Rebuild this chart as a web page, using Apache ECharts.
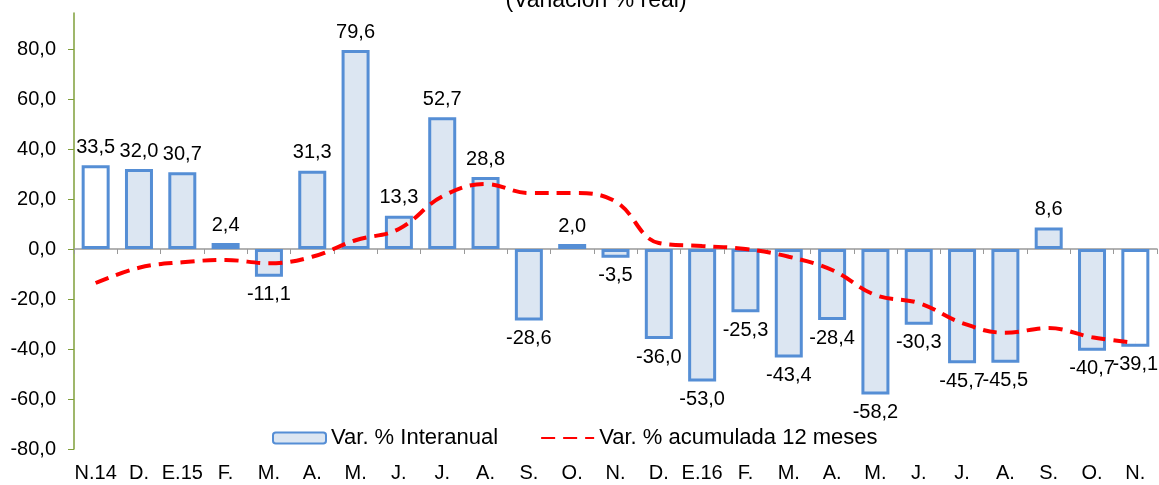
<!DOCTYPE html>
<html>
<head>
<meta charset="utf-8">
<script src="https://cdn.jsdelivr.net/npm/echarts@6/dist/echarts.min.js"></script>
<style>
  html, body { margin: 0; padding: 0; background: #fff; }
  #chart { width: 1159px; height: 485px; }
</style>
</head>
<body>
<div id="chart"></div>
<script>
const categories = ["N.14", "D.", "E.15", "F.", "M.", "A.", "M.", "J.", "J.", "A.", "S.", "O.",
  "N.", "D.", "E.16", "F.", "M.", "A.", "M.", "J.", "J.", "A.", "S.", "O.", "N."];
const interanual = [33.5, 32.0, 30.7, 2.4, -11.1, 31.3, 79.6, 13.3, 52.7, 28.8, -28.6, 2.0,
  -3.5, -36.0, -53.0, -25.3, -43.4, -28.4, -58.2, -30.3, -45.7, -45.5, 8.6, -40.7, -39.1];
const acumulada = [-13.6, -7.5, -5.3, -4.4, -5.7, -3.1, 3.5, 8.0, 21.0, 26.0, 22.4, 22.4,
  19.0, 2.4, 1.2, 0.0, -3.1, -8.4, -18.4, -21.6, -29.6, -33.5, -31.6, -35.3, -37.5];
const yTicks = [-80, -60, -40, -20, 0, 20, 40, 60, 80];
const whiteBars = [0, 24];

const fmt = v => Number(v).toFixed(1).replace(".", ",");
const FONT = "Liberation Sans";
const FS = 20;

const chart = echarts.init(document.getElementById("chart"));
chart.setOption({
  animation: false,
  textStyle: { fontFamily: FONT },
  title: {
    text: "(Variación % real)",
    left: 591,
    textAlign: "center",
    top: -16,
    textStyle: { fontFamily: FONT, fontSize: 23, fontWeight: "normal", color: "#000" }
  },
  legend: {
    left: 272,
    top: 427,
    padding: 0,
    itemWidth: 53,
    itemHeight: 11,
    itemGap: 42,
    textStyle: { fontFamily: FONT, fontSize: 22, color: "#000" },
    data: [
      { name: "Var. % Interanual" },
      { name: "Var. % acumulada 12 meses", itemStyle: { opacity: 0 } }
    ]
  },
  grid: { left: 74, right: 2, top: 13, bottom: 36 },
  xAxis: [
    {
      type: "category",
      data: categories,
      axisLine: { onZero: true, lineStyle: { color: "#999", width: 1.5 } },
      axisTick: { show: true, length: 5, lineStyle: { color: "#999" } },
      axisLabel: { show: false }
    },
    {
      type: "category",
      data: categories,
      position: "bottom",
      axisLine: { show: false },
      axisTick: { show: false },
      axisLabel: { color: "#000", fontSize: FS, fontFamily: FONT, margin: 14, interval: 0 }
    }
  ],
  yAxis: {
    type: "value",
    min: -80,
    max: 94.4,
    interval: 20,
    splitLine: { show: false },
    axisLine: { show: true, onZero: false, lineStyle: { color: "#7f9f3a", width: 1.5 } },
    axisTick: { show: true, length: 6, customValues: yTicks, lineStyle: { color: "#7f9f3a" } },
    axisLabel: {
      customValues: yTicks,
      color: "#000",
      fontSize: FS,
      fontFamily: FONT,
      margin: 18,
      formatter: fmt
    }
  },
  series: [
    {
      name: "Var. % Interanual",
      type: "bar",
      xAxisIndex: 0,
      barWidth: 28,
      data: interanual.map((v, i) => {
        const item = { value: v };
        if (whiteBars.includes(i)) item.itemStyle = { color: "#fff" };
        if (v < 0) item.label = { position: "bottom" };
        return item;
      }),
      itemStyle: { color: "#dce6f2", borderColor: "#558ed5", borderWidth: 3 },
      label: {
        show: true,
        position: "top",
        distance: 8,
        color: "#000",
        fontSize: FS,
        fontFamily: FONT,
        formatter: p => fmt(p.value)
      },
      z: 2
    },
    {
      name: "Var. % acumulada 12 meses",
      type: "line",
      xAxisIndex: 0,
      data: acumulada,
      smooth: 0.4,
      symbol: "none",
      showSymbol: false,
      lineStyle: { color: "#ff0000", width: 4, type: [14, 8] },
      itemStyle: { color: "#ff0000" },
      z: 3
    }
  ]
});
</script>
</body>
</html>
